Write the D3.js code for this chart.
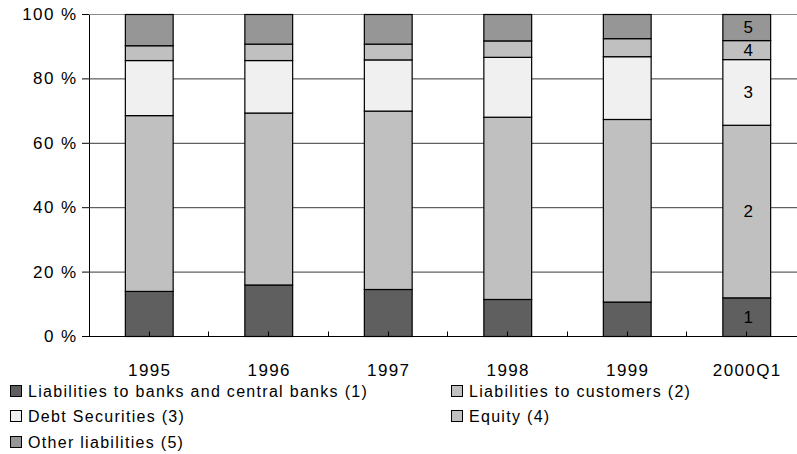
<!DOCTYPE html>
<html>
<head>
<meta charset="utf-8">
<script src="https://cdn.jsdelivr.net/npm/d3@7"></script>
<style>
  body { margin: 0; background: #fff; }
  svg text { font-family: "Liberation Sans", Arial, sans-serif; fill: #000; }
</style>
</head>
<body>
<div id="chart"></div>
<script>
// categories and series (percent of total liabilities)
const years = ["1995", "1996", "1997", "1998", "1999", "2000Q1"];
const seriesNames = [
  "Liabilities to banks and central banks (1)",
  "Liabilities to customers (2)",
  "Debt Securities (3)",
  "Equity (4)",
  "Other liabilities (5)"
];
const banks     = [14.0, 16.0, 14.6, 11.5, 10.7, 12.0];
const customers = [54.6, 53.4, 55.4, 56.6, 56.7, 53.6];
const debt      = [17.1, 16.3, 15.9, 18.6, 19.5, 20.4];
const equity    = [4.6, 5.1, 4.9, 5.1, 5.6, 5.9];
const other     = [9.7, 9.2, 9.2, 8.2, 7.5, 8.1];
const yTicks = [0, 20, 40, 60, 80, 100];
const segLabels = ["1", "2", "3", "4", "5"];

const width = 797, height = 454;
const margin = { top: 14, left: 89, bottom: 116 };
const plotRight = 806; // last category runs past the picture edge
const colors = ["#5f5f5f", "#c0c0c0", "#f0f0f0", "#c0c0c0", "#969696"];

const keys = ["banks", "customers", "debt", "equity", "other"];
const table = years.map((y, i) => ({
  year: y, banks: banks[i], customers: customers[i], debt: debt[i],
  equity: equity[i], other: other[i]
}));
const stacked = d3.stack().keys(keys)(table);

const svg = d3.select("#chart").append("svg")
  .attr("width", width).attr("height", height);

const x = d3.scaleBand().domain(years)
  .range([margin.left, plotRight])
  .paddingInner(0.6).paddingOuter(0.3);
const y = d3.scaleLinear().domain([0, 100])
  .range([height - margin.bottom - 2, margin.top]);

// gridlines + y axis
const yAxis = svg.append("g")
  .attr("transform", `translate(${margin.left},0)`)
  .call(d3.axisLeft(y).tickValues(yTicks).tickSize(7).tickPadding(6)
    .tickFormat(d => d + " %"));
yAxis.select(".domain").attr("stroke", "#000");
yAxis.selectAll(".tick line").attr("stroke", "#000");
yAxis.selectAll(".tick text")
  .style("font-size", "17px").style("letter-spacing", "1.4px")
  .attr("font-family", null).attr("dx", "1.4");

svg.append("g").selectAll("line")
  .data(yTicks.filter(d => d > 0))
  .join("line")
  .attr("x1", margin.left).attr("x2", width)
  .attr("y1", d => y(d) + 0.5).attr("y2", d => y(d) + 0.5)
  .attr("stroke", d => d === 100 ? "#8a8a8a" : "#3a3a3a")
  .attr("stroke-width", 1);

// bars
const layer = svg.append("g").selectAll("g")
  .data(stacked).join("g")
  .attr("fill", (d, i) => colors[i]);

layer.selectAll("rect")
  .data(d => d)
  .join("rect")
  .attr("x", d => x(d.data.year) + 0.5)
  .attr("y", d => y(d[1]) + 0.5)
  .attr("width", x.bandwidth())
  .attr("height", d => y(d[0]) - y(d[1]))
  .attr("stroke", "#000")
  .attr("stroke-width", 1.2);

// x axis line and ticks (at category boundaries and centres)
const baseY = y(0) + 0.5;
svg.append("line")
  .attr("x1", margin.left - 7).attr("x2", width)
  .attr("y1", baseY).attr("y2", baseY)
  .attr("stroke", "#000");

const step = x.step();
const tickXs = [];
years.forEach(yr => {
  const c = x(yr) + x.bandwidth() / 2;
  tickXs.push(c - step / 2, c);
});
svg.append("g").selectAll("line")
  .data(tickXs.filter(v => v > margin.left + 1))
  .join("line")
  .attr("x1", d => Math.round(d) + 0.5).attr("x2", d => Math.round(d) + 0.5)
  .attr("y1", baseY).attr("y2", baseY - 5)
  .attr("stroke", "#000");

svg.append("g").selectAll("text")
  .data(years).join("text")
  .attr("x", d => x(d) + x.bandwidth() / 2 + 1)
  .attr("y", 376)
  .attr("text-anchor", "middle")
  .style("font-size", "17px").style("letter-spacing", "1.4px")
  .text(d => d);

// numbers inside the last bar
const last = years[years.length - 1];
svg.append("g").selectAll("text")
  .data(stacked)
  .join("text")
  .attr("x", x(last) + x.bandwidth() / 2 + 2)
  .attr("y", d => (y(d[5][0]) + y(d[5][1])) / 2 + 6)
  .attr("text-anchor", "middle")
  .style("font-size", "17px")
  .text((d, i) => segLabels[i]);

// legend
const legendPos = [
  [10, 397], [451, 397],
  [10, 422], [451, 422],
  [10, 448]
];
const legend = svg.append("g").selectAll("g")
  .data(seriesNames).join("g")
  .attr("transform", (d, i) => `translate(${legendPos[i][0]},${legendPos[i][1]})`);
legend.append("rect")
  .attr("x", 0.5).attr("y", -11.5)
  .attr("width", 11).attr("height", 11)
  .attr("fill", (d, i) => colors[i])
  .attr("stroke", "#000");
legend.append("text")
  .attr("x", 18).attr("y", 0)
  .style("font-size", "16px").style("letter-spacing", "1.3px")
  .text(d => d);
</script>
</body>
</html>
